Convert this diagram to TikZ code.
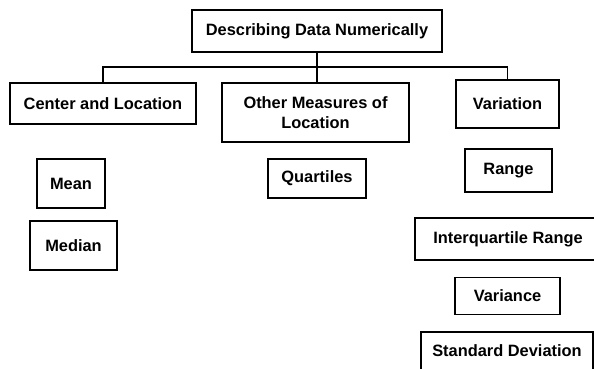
\documentclass[tikz,border=0pt]{standalone}
\usepackage{fontspec}
\setmainfont{Liberation Sans}
\usepackage{tikz}

\tikzset{
  box/.style={draw, line width=1.4pt, inner sep=0pt, align=center,
    font=\bfseries\fontsize{16.4}{20}\selectfont},
  link/.style={line width=1.4pt}
}

\begin{document}
\begin{tikzpicture}[x=1pt,y=-1pt]
      \clip (0,0) rectangle (594,368);
      \node[box, minimum width=250, minimum height=42] (top) at (317,31) {Describing Data Numerically};
      \node[box, minimum width=186, minimum height=41] (center) at (103,103.5) {Center and Location};
      \node[box, minimum width=187, minimum height=59] (other) at (315.5,112.5) {Other Measures of\\Location};
      \node[box, minimum width=103, minimum height=48] (variation) at (507.5,104) {Variation};
      \node[box, minimum width=68, minimum height=49] (mean) at (71,183.5) {Mean};
      \node[box, minimum width=87, minimum height=49] (median) at (73.5,245.5) {Median};
      \node[box, minimum width=98, minimum height=39] (quartiles) at (317,178.5) {Quartiles};
      \node[box, minimum width=87, minimum height=43] (range) at (508.5,170.5) {Range};
      \node[box, minimum width=186, minimum height=42] (iqr) at (508,239) {Interquartile Range};
      \node[box, minimum width=105, minimum height=37] (variance) at (507.5,296) {Variance};
      \node[box, minimum width=172, minimum height=38] (stddev) at (507,351) {Standard Deviation};
      \coordinate (bus) at (317,67);
      \draw[link] (top.south) -- (bus);
      \draw[link] (bus) -| (center.north);
      \draw[link] (bus) -- (bus |- other.north);
      \draw[link] (bus) -| (variation.north);
\end{tikzpicture}
\end{document}
